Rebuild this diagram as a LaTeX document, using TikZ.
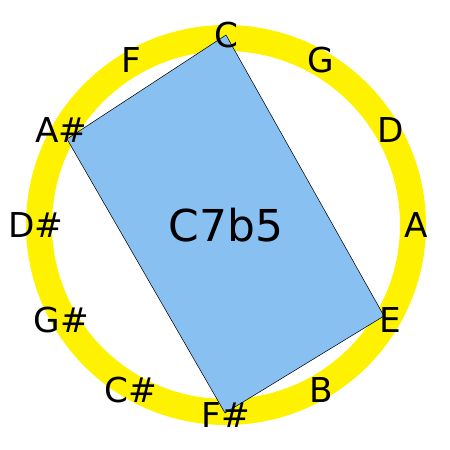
\documentclass[tikz,border=0pt]{standalone}
\usepackage{fontspec}
\setmainfont{DejaVu Sans}
\usepackage{tikz}

\definecolor{chordblue}{RGB}{137,192,242}

\tikzset{
  note/.style={font=\fontsize{19.5}{19.5}\selectfont, inner sep=0pt},
  chord/.style={fill=chordblue, draw=black, line width=0.3pt},
}

\begin{document}
\begin{tikzpicture}
  \useasboundingbox (-4.52,-4.5) rectangle (4.48,4.5);

  %% Ring
  \draw[yellow, line width=0.52cm] (0,0) circle (3.74);

  %% Chord corners
  \coordinate (vC)  at (0,3.8);
  \coordinate (vAs) at (-3.18,1.72);
  \coordinate (vFs) at (-0.02,-3.76);
  \coordinate (vE)  at (3.16,-1.82);
  \draw[chord] (vC) -- (vAs) -- (vFs) -- (vE) -- cycle;
  \node[font=\fontsize{25}{25}\selectfont] (name) at (0,0) {C7b5};

  %% Note labels
  \foreach \n/\t/\a in {C/C/90, G/G/60, D/D/30, A/A/0, E/E/-30, B/B/-60,
                        Fs/F\#/-90, Cs/C\#/-120, Gs/G\#/-150, Ds/D\#/180,
                        As/A\#/150, F/F/120}
    \node[note] (\n) at (\a:3.8) {\t};

\end{tikzpicture}
\end{document}
